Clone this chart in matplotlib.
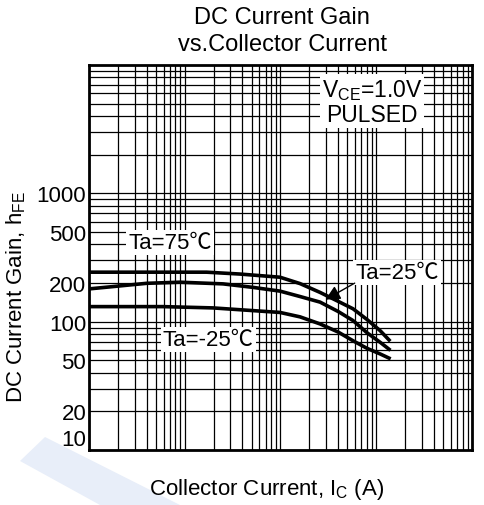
import matplotlib
matplotlib.use("Agg")
import matplotlib.pyplot as plt
from matplotlib.patches import Polygon
from matplotlib.ticker import LogLocator, NullFormatter

plt.rcParams['font.family'] = ['Liberation Sans', 'Noto Sans CJK JP', 'DejaVu Sans']
plt.rcParams['mathtext.fontset'] = 'custom'
plt.rcParams['mathtext.rm'] = 'Liberation Sans'
plt.rcParams['mathtext.it'] = 'Liberation Sans'

# Collector current (A) and DC current gain
ic_75 = [0.001, 0.005, 0.0169, 0.0377, 0.0988, 0.16, 0.259, 0.4, 0.572, 0.8, 1.1, 1.36]
hfe_75 = [243, 243, 243, 235, 222, 198, 169, 144, 126, 104, 85, 72]

ic_25 = [0.001, 0.004, 0.0089, 0.0251, 0.0516, 0.0988, 0.16, 0.259, 0.4, 0.572, 0.8, 1.1, 1.36]
hfe_25 = [180, 199, 203, 197, 185, 173, 157, 142, 120, 102, 82, 69, 61]

ic_m25 = [0.001, 0.0059, 0.0197, 0.0988, 0.16, 0.259, 0.4, 0.572, 0.8, 1.1, 1.36]
hfe_m25 = [131, 131, 128, 118, 109, 96, 83, 71, 62, 56, 52]

ytick_vals = [10, 20, 50, 100, 200, 500, 1000]
ytick_labels = ['10', '20', '50', '100', '200', '500', '1000']

W, H = 485, 506
fig = plt.figure(figsize=(W / 100, H / 100), dpi=100)
ax = fig.add_axes([89 / W, 1 - 451 / H, (472 - 89) / W, (451 - 66) / H])

# faint watermark shape in the bottom-left corner
fig.patches.append(Polygon([(45 / W, 1 - 438 / H), (180 / W, 0), (100 / W, 0), (20 / W, 1 - 462 / H)],
                           closed=True, transform=fig.transFigure,
                           facecolor='#e8eef9', edgecolor='none', zorder=0))

ax.set_xscale('log')
ax.set_yscale('log')
ax.set_xlim(0.001, 10)
ax.set_ylim(10, 10000)

# log grid
ax.xaxis.set_major_locator(LogLocator(base=10, numticks=10))
ax.xaxis.set_minor_locator(LogLocator(base=10, subs=range(2, 10), numticks=20))
ax.yaxis.set_minor_locator(LogLocator(base=10, subs=range(2, 10), numticks=20))
ax.xaxis.set_major_formatter(NullFormatter())
ax.xaxis.set_minor_formatter(NullFormatter())
ax.yaxis.set_minor_formatter(NullFormatter())
ax.grid(True, which='both', color='black', linewidth=0.9)
ax.set_axisbelow(True)

ax.set_yticks(ytick_vals)
ax.set_yticklabels(ytick_labels)
ax.tick_params(which='both', length=0, labelsize=16, pad=2)
ax.get_yticklabels()[0].set_va('bottom')

for side in ax.spines.values():
    side.set_linewidth(2)

lw = 2.6
ax.plot(ic_75, hfe_75, color='black', linewidth=lw)
ax.plot(ic_25, hfe_25, color='black', linewidth=lw)
ax.plot(ic_m25, hfe_m25, color='black', linewidth=lw)

box = dict(facecolor='white', edgecolor='none', pad=1.5)
ax.text(0.2115, 0.540, 'Ta=75\u2103', transform=ax.transAxes, fontsize=16,
        ha='center', va='center', bbox=box)
ax.text(0.311, 0.288, 'Ta=-25\u2103', transform=ax.transAxes, fontsize=16,
        ha='center', va='center', bbox=box)
ax.text(0.804, 0.460, 'Ta=25\u2103', transform=ax.transAxes, fontsize=16,
        ha='center', va='center', bbox=box)
ax.annotate('', xy=(0.611, 0.387), xytext=(0.700, 0.437),
            xycoords='axes fraction', textcoords='axes fraction',
            arrowprops=dict(arrowstyle='-|>', color='black', lw=1.0,
                            mutation_scale=22))
ax.text(0.739, 0.905, 'V$_{\\rm CE}$=1.0V\nPULSED', transform=ax.transAxes,
        fontsize=16.5, ha='center', va='center', linespacing=1.05, bbox=box)

fig.text(282 / W, 1 - 18 / H, 'DC Current Gain', fontsize=17, ha='center', va='center')
fig.text(282 / W, 1 - 45 / H, 'vs.Collector Current', fontsize=17, ha='center', va='center')
fig.text(267 / W, 1 - 490 / H, 'Collector Current, I$_{\\rm C}$ (A)', fontsize=16,
         ha='center', va='center')
fig.text(16 / W, 1 - 297 / H, 'DC Current Gain, h$_{\\rm FE}$', fontsize=16,
         ha='center', va='center', rotation=90)

fig.savefig('out.png', dpi=100, facecolor='white')
